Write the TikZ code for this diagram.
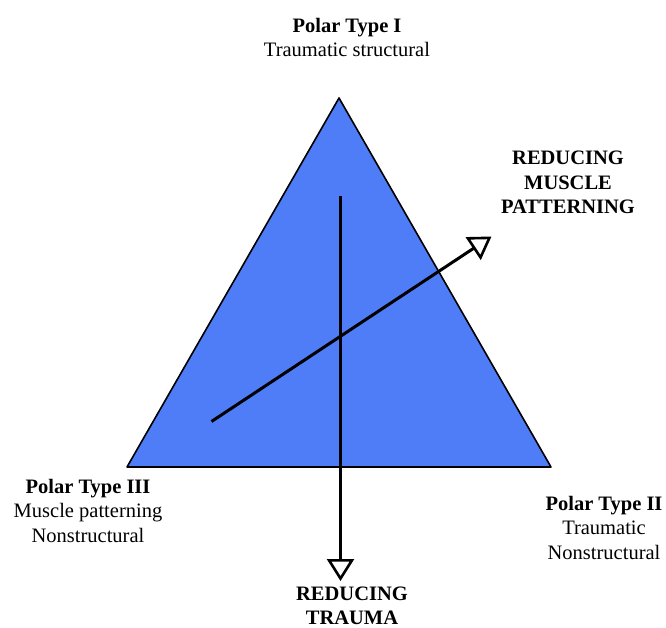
\documentclass[tikz,border=0pt]{standalone}
\usepackage{fontspec}
\setmainfont{Liberation Serif}
\usetikzlibrary{arrows.meta}
\definecolor{triblue}{RGB}{78,125,247}
\begin{document}
\begin{tikzpicture}[x=1pt,y=-1pt,
  lbl/.style={align=center,inner sep=0pt,anchor=north,font=\fontsize{20.5}{24.5}\selectfont},
  axis/.style={line width=3pt,-{Triangle[open,length=22pt,width=27pt,line width=2.6pt]}}]
\useasboundingbox (0,0) rectangle (666,628);
\coordinate (apex) at (339,98);
\coordinate (bl) at (127,467);
\coordinate (br) at (551,467);
\fill[triblue,draw=black,line width=1.6pt,line join=round] (apex) -- (br) -- (bl) -- cycle;
\coordinate (vs) at (340.5,196);
\coordinate (ve) at (340.5,581);
\coordinate (ds) at (211.5,421.5);
\coordinate (de) at (491.5,236.5);
\draw[axis] (vs) -- (ve);
\draw[axis] (ds) -- (de);
\node[lbl] (t1) at (347,18) {\textbf{Polar Type I}\\Traumatic structural};
\node[lbl] (t2) at (568,151) {\textbf{REDUCING}\\\textbf{MUSCLE}\\\textbf{PATTERNING}};
\node[lbl] (t3) at (88,479) {\textbf{Polar Type III}\\Muscle patterning\\Nonstructural};
\node[lbl] (t4) at (604,496) {\textbf{Polar Type II}\\Traumatic\\Nonstructural};
\node[lbl] (t5) at (352,587) {\textbf{REDUCING}\\[-1pt]\textbf{TRAUMA}};
\end{tikzpicture}
\end{document}
